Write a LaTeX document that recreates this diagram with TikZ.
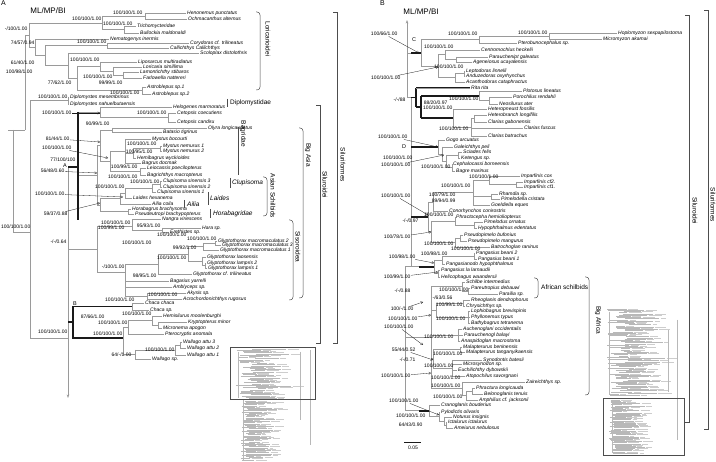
\documentclass[tikz,border=0pt]{standalone}
\usepackage{fontspec}
\setmainfont{Liberation Sans}
\definecolor{arbolGris}{HTML}{9A9A9A}
\definecolor{arbolOscuro}{HTML}{4D4D4D}
\definecolor{arbolTinta}{HTML}{1A1A1A}
\definecolor{arbolMini}{HTML}{B8B8B8}
\usepackage{tikz}
\usetikzlibrary{
	arrows.meta
}
\tikzset{
	rama/.style={
		draw=arbolGris,
		line width=0.5pt
	},
	ramaNegra/.style={
		draw=arbolTinta,
		line width=1.6pt
	},
	taxon/.style={
		anchor=west,
		inner sep=0pt,
		font=\fontsize{5}{5}\selectfont\itshape
	},
	soporte/.style={
		anchor=east,
		inner sep=0.4pt,
		font=\fontsize{5}{5}\selectfont
	},
	clado/.style={
		inner sep=0pt,
		font=\fontsize{6.5}{6.5}\selectfont
	},
	cladoGiro/.style={
		clado,
		rotate=-90
	},
	llave/.style={
		draw=arbolOscuro,
		line width=0.5pt,
		rounded corners=3pt
	},
	barra/.style={
		draw=arbolOscuro,
		line width=0.5pt
	},
	flecha/.style={
		-{Straight Barb[length=2pt,width=2.4pt]},
		line width=0.3pt,
		arbolTinta
	},
	eje/.style={
		draw=arbolGris,
		line width=0.6pt,
		-{Stealth[length=3.5pt,width=2.6pt]}
	},
	mini/.style={
		draw=arbolMini,
		line width=0.2pt
	},
	recuadro/.style={
		draw=arbolOscuro,
		line width=0.6pt
	}
}

\begin{document}
\begin{tikzpicture}[x=1pt,y=-1pt]
	\useasboundingbox (0,0) rectangle (716,462);
	\fill[white] (0,0) rectangle (716,462);

	% ---------- panel A ----------
	\node[anchor=north west, inner sep=0pt, font=\fontsize{7}{7}\selectfont] (letraA) at (1,0) {A};
	\node[inner sep=0pt, font=\fontsize{8}{8}\selectfont] (metodoA) at (48,11) {ML/MP/BI};

	% internal branches
	\foreach \xn/\ya/\yb in {145/13/19, 124/26/33, 102/16/29.5, 29/23/47.3, 35/39/55.6, 107/43/48, 45/45.5/65.75, 68/53/78.5, 77/66.5/90.5, 100/62/71, 113/67/75, 123/72/78, 142/87/94, 25/35/130, 13/130/232, 30/100.5/338, 68/97/104, 168/113/122, 100/107/117.5, 112/128/132, 160/146/151, 133/148.5/158, 125/139/163, 140/168/175, 110/151/171.5, 100/130/161.25, 160/181/187, 152/184/192, 125/188/198, 120/193/204, 128/209/214, 100/198.5/211.5, 97/145.6/205, 162/228/232, 132/219.5/230, 215/241/245, 203/243/250, 205/263/268, 202/257/265.5, 188/246.5/261.25, 158/253.9/274, 147/293/299, 125/264/296, 97/226/272, 132/303/310, 158/322/328, 152/316/325, 128/320.5/334, 180/342/348, 175/345/355, 135/350/359, 123/327.25/354.5}
		{\draw[rama] (\xn,\ya) -- (\xn,\yb);}
	\foreach \xa/\xb/\yn in {102/145/16, 102/124/29.5, 29/102/23, 25/29/35, 29/35/47.3, 35/45/55.6, 45/107/45.5, 45/68/65.75, 68/77/78.5, 77/100/66.5, 100/113/71, 113/123/75, 77/142/90.5, 8/13/130, 13/25/130, 13/30/232, 30/68/100.5, 30/68/338, 78/100/112.25, 100/168/117.5, 100/112/130, 133/160/148.5, 125/133/153.25, 110/125/151, 110/140/171.5, 100/110/161.25, 97/100/145.6, 152/160/184, 125/152/188, 120/125/193, 100/120/198.5, 100/128/211.5, 97/100/205, 78/97/175.3, 132/162/230, 97/132/226, 203/215/243, 188/203/246.5, 202/205/265.5, 188/202/261.25, 158/188/253.9, 125/158/264, 125/147/296, 97/125/272, 68/97/249, 152/158/325, 128/152/320.5, 175/180/345, 135/175/350, 123/128/327.25, 123/135/354.5}
		{\draw[rama] (\xa,\yn) -- (\xb,\yn);}
	\draw[eje] (68,167) -- (68,398);
	\draw[ramaNegra] (78,112) -- (78,220);
	\draw[ramaNegra, line width=2pt] (68,167) -- (78,167);
	\draw[ramaNegra] (73,306.5) -- (132,306.5);
	\draw[ramaNegra] (73,306.5) -- (73,338) -- (123,338);
	\draw[ramaNegra] (68,322) -- (73,322);

	% terminal taxa
	\foreach \xn/\yn/\xl/\nom in {145/13/187/Henonemus punctatus, 145/19/188/Ochmacanthus alternus, 124/26/137/Trichomycteridae, 124/33/140/Bullockia maldonaldi, 35/39/110/Nematogenys inermis, 107/43/190/Corydoras cf. trilineatus, 107/48/170/Callichthys Callichthys, 68/53/200/Scoloplax distolothrix, 100/62/138/Liposarcus multiradiatus, 113/67/143/Loricaria simillima, 123/72/140/Lamontichthy stibaros, 123/78/143/Farlowella nattereri, 142/87/147/Astroblepus sp.1, 142/94/152/Astroblepus sp.2, 68/97/70/Diplomystes mesembrinus, 68/104/70/Diplomystes nahuelbutaensis, 100/107/173/Helogenes marmoratus, 168/113/177/Cetopsis coecutiens, 168/122/177/Cetopsis candiru, 112/128/208/Olyra longicaudatus, 112/132/163/Batasio tigrinus, 125/139/152/Mystus bocourti, 160/146/163/Mystus nemurus 1, 160/151/163/Mystus nemurus 2, 133/158/137/Hemibagrus wyckioides, 125/163/142/Bagrus docmak, 140/168/147/Leiocassis poecilopterus, 140/175/147/Bagrichthys macropterus, 160/181/163/Clupisoma sinensis 3, 160/187/163/Clupisoma sinensis 2, 152/192/157/Clupisoma sinensis 1, 125/198/133/Laides hexanema, 120/204/152/Ailia coila, 128/209/132/Horabagrus brachysoma, 128/214/135/Pseudeutropi brachypopterus, 132/219.5/162/Nangra viriescens, 162/228/202/Hara sp., 162/232/170/Erethistes sp., 215/241/218/Glyptothorax macromaculatus 2, 215/245/222/Glyptothorax macromaculatus 3, 203/250/220/Glyptothorax macromaculatus 1, 202/257/207/Glyptothorax laosensis, 205/263/207/Glyptothorax lampris 2, 205/268/208/Glyptothorax lampris 1, 158/274/193/Glyptothorax cf. trilineatus, 125/281/170/Bagarius yarrelli, 125/287/173/Amblyceps sp., 147/293/187/Akysis sp., 147/299/183/Acrochordonichthys rugosus, 132/303/145/Chaca chaca, 132/310/150/Chaca sp., 152/316/163/Hemisilurus moolenburghi, 158/322/188/Kryptopterus minor, 158/328/163/Micronema apogon, 128/334/165/Pterocryptis anomala, 180/342/183/Wallago attu 3, 180/348/187/Wallago attu 2, 175/355/187/Wallago attu 1, 135/359/152/Wallago sp.}
	{
		\draw[rama] (\xn,\yn) -- ({\xl-1},\yn);
		\node[taxon] at (\xl,\yn) {\nom};
	}

	% support values
	\foreach \xr/\yn/\txt in {143/13/{100/100/1.00}, 102/19/{100/100/1.00}, 133/24/{100/100/1.00}, 28/29/{-/100/1.00}, 35/43/{74/57/0.94}, 107/42/{100/100/1.00}, 35/63/{61/40/1.00}, 100/60/{100/100/1.00}, 33/72/{100/98/1.00}, 113/77/{100/100/1.00}, 72/83/{77/62/1.00}, 123/83/{99/99/1.00}, 140/93/{100/100/1.00}, 68/97/{100/100/1.00}, 167/113/{100/100/1.00}, 110/124/{90/99/1.00}, 157/144/{100/100/1.00}, 153/152/{100/95/1.00}, 76/159.5/{77/100/100}, 138/167/{100/99/1.00}, 138/177/{100/100/1.00}, 160/182/{100/100/1.00}, 125/187/{100/100/1.00}, 131/222.5/{100/100/1.00}, 125/227.5/{100/99/1.00}, 161/225.5/{95/93/1.00}, 187/235/{100/100/1.00}, 217/239/{100/100/1.00}, 67/242/{-/-/0.64}, 152/243/{100/100/1.00}, 197/248/{99/92/1.00}, 187/258/{100/100/1.00}, 125/267/{-/100/1.00}, 157/276/{98/95/1.00}, 178/295/{100/100/1.00}, 135/300/{100/100/1.00}, 105/317/{87/66/1.00}, 152/314/{100/100/1.00}, 128/323/{100/100/1.00}, 68/332/{100/100/1.00}, 123/334/{100/100/1.00}, 175/350/{100/100/1.00}, 132/355/{64/-/1.00}}
		{\node[soporte] at (\xr,\yn) {\txt};}
	\node[soporte, anchor=west] (soporteRaiz) at (0.5,227) {100/100/1.00};
	\foreach \xr/\yn/\xt/\yt/\txt [count=\i] in {72/113/100/113/{100/100/1.00}, 70/139/100/142/{81/44/1.00}, 72/148/108/158/{100/100/1.00}, 65/171/97/173/{56/48/0.60}, 65/194/123/197/{100/100/1.00}, 68/214/100/203/{59/37/0.88}}
	{
		\node[soporte] (flA\i) at (\xr,\yn) {\txt};
		\coordinate (noA\i) at (\xt,\yt);
		\draw[flecha] (flA\i) -- (noA\i);
	}
	\node[inner sep=0pt, font=\fontsize{5.5}{5.5}\selectfont] (marcaA) at (65,166) {A};
	\node[inner sep=0pt, font=\fontsize{5.5}{5.5}\selectfont] (marcaB) at (75,304) {B};

	% clades of panel A
	\draw[llave] (256,12) -- (260,12) -- (260,90) -- (256,90);
	\node[cladoGiro] (loricarioidei) at (268,39) {Loricarioidei};
	\draw[barra] (227,99) -- (227,107);
	\node[clado, anchor=west] (diplomystidae) at (230,103) {Diplomystidae};
	\draw[barra] (238,127) -- (238,175);
	\node[cladoGiro] (bagridae) at (243,134) {Bagridae};
	\draw[barra] (230,178) -- (230,188);
	\node[clado, anchor=west, font=\fontsize{6.5}{6.5}\selectfont\itshape] (clupisoma) at (232,183) {Clupisoma};
	\draw[barra] (208,192) -- (208,205);
	\node[clado, anchor=west, font=\fontsize{6.5}{6.5}\selectfont\itshape] (laides) at (210,198) {Laides};
	\draw[barra] (184,200) -- (184,208);
	\node[clado, anchor=west, font=\fontsize{6.5}{6.5}\selectfont\itshape] (ailia) at (187,204) {Ailia};
	\draw[barra] (210,209) -- (210,218);
	\node[clado, anchor=west, font=\fontsize{6.5}{6.5}\selectfont\itshape] (horabagridae) at (213,214) {Horabagridae};
	\draw[llave] (263,177) -- (267,177) -- (267,216) -- (263,216);
	\node[cladoGiro] (asianSchilbids) at (273,196) {Asian Schilbids};
	\draw[llave] (289,220) -- (293,220) -- (293,300) -- (289,300);
	\node[cladoGiro] (sisoroidea) at (298,247) {Sisoroidea};
	\draw[llave] (299,128) -- (303,128) -- (303,298) -- (299,298);
	\node[cladoGiro] (bigAsia) at (308,155) {Big Asia};
	\draw[barra] (316,105) -- (320,105) -- (320,343) -- (316,343);
	\node[cladoGiro] (siluroideiA) at (325,185) {Siluroidei};
	\draw[barra] (333,12) -- (337,12) -- (337,343) -- (333,343);
	\node[cladoGiro] (siluriformesA) at (343,165) {Siluriformes};

	% miniature of panel A
	\pgfmathsetseed{11}
	\foreach \k in {0,...,42}{
		\pgfmathsetmacro{\yy}{349+\k*1.2}
		\pgfmathsetmacro{\xa}{236+24*rnd}
		\pgfmathsetmacro{\xb}{\xa+8+28*rnd}
		\draw[mini] (\xa,\yy) -- (\xb,\yy);
		\draw[mini, draw=arbolMini!70] ({\xb+1.5},\yy) -- ({\xb+6+9*rnd},\yy);
	}
	\foreach \k in {0,...,49}{
		\pgfmathsetmacro{\yy}{401+\k*1.2}
		\pgfmathsetmacro{\xa}{241+8*rnd}
		\pgfmathsetmacro{\xb}{\xa+8+22*rnd}
		\draw[mini] (\xa,\yy) -- (\xb,\yy);
		\draw[mini, draw=arbolMini!70] ({\xb+1.5},\yy) -- ({\xb+5+8*rnd},\yy);
	}
	\draw[mini] (238,352) -- (238,398);
	\draw[mini] (243,400) -- (243,460);
	\draw[mini] (300,352) -- (300,420);
	\draw[mini] (310,350) -- (310,445);
	\draw[recuadro] (230,347) rectangle (315,399);

	% ---------- panel B ----------
	\node[anchor=north west, inner sep=0pt, font=\fontsize{7}{7}\selectfont] (letraB) at (380,0) {B};
	\node[inner sep=0pt, font=\fontsize{8}{8}\selectfont] (metodoB) at (421,12) {ML/MP/BI};

	\foreach \xn/\ya/\yb in {549/33/39, 479/36/43, 456/57/62, 445/50/59.5, 464/71/76, 455/73.5/82, 438/54.75/77.75, 421/39.5/66.25, 489/97/104, 479/91/100.5, 474/115/122, 471/118.5/136, 453/109/127.25, 458/152/158, 452/164/171, 446/155/167.5, 442/147/161.25, 438/140/154.1, 516/182/187, 489/176/184.5, 491/194/199, 473/180.25/205, 433/192.6/211, 474/222/228, 455/217/225, 460/235/241, 455/238/247, 431/221/242.5, 428/201.8/231.75, 474/253/259, 442/256/264, 438/270/277, 434/260/273.5, 468/288/294, 462/282/291, 463/300/306, 468/311/323, 436/303/317, 458/329/341, 460/347/352, 452/360/376, 433/349.5/368, 472/388/394, 466/391/400, 462/382/395.5, 431/286.5/388.75, 446/422/428, 444/417/425, 439/412/421, 429/405/416.5, 411/97.5/266.75, 405/266.75/410.75}
		{\draw[rama] (\xn,\ya) -- (\xn,\yb);}
	\foreach \xa/\xb/\yn in {479/549/36, 421/479/39.5, 445/456/59.5, 438/445/54.75, 455/464/73.5, 438/455/77.75, 421/438/66.25, 407/411/53, 479/489/100.5, 471/474/118.5, 453/471/127.25, 407/411/97.5, 446/458/155, 446/452/167.5, 442/446/161.25, 438/442/154.1, 489/516/184.5, 473/489/180.25, 473/491/196.5, 433/473/192.6, 428/433/201.8, 455/474/225, 431/455/221, 455/460/238, 431/455/242.5, 428/431/231.75, 442/474/256, 434/442/260, 434/438/273.5, 405/419/266.75, 462/468/291, 431/462/286.5, 436/463/303, 436/468/317, 431/436/310, 431/458/335, 431/433/358.75, 433/460/349.5, 433/452/368, 466/472/391, 462/466/395.5, 431/462/388.75, 444/446/425, 439/444/421, 429/439/416.5, 405/419/410.75, 405/431/337}
		{\draw[rama] (\xa,\yn) -- (\xb,\yn);}
	\draw[eje] (407,97.5) -- (407,20);
	\draw[ramaNegra] (411,53) -- (421,53);
	\draw[ramaNegra] (411,97.5) -- (416,97.5);
	\draw[ramaNegra] (416,88) -- (416,107);
	\draw[ramaNegra] (416,88) -- (470,88);
	\draw[ramaNegra] (416,107) -- (421,107);
	\draw[ramaNegra] (421,95.75) -- (421,118.1);
	\draw[ramaNegra] (421,95.75) -- (479,95.75);
	\draw[ramaNegra] (421,118.1) -- (453,118.1);
	\draw[ramaNegra] (411,147) -- (438,147);
	\draw[ramaNegra] (411,216.8) -- (428,216.8);
	\draw[ramaNegra] (419,266.75) -- (434,266.75);
	\draw[ramaNegra] (419,410.75) -- (429,410.75);

	\foreach \xn/\yn/\xl/\nom in {549/33/618/Hoplomyzon sexpapilostoma, 549/39/603/Micromyzon akamai, 479/43/518/Pterobunocephalus sp., 445/50/481/Centromochlus heckelii, 456/57/489/Parauchenipt galeatus, 456/62/473/Ageneiosus ucayalensis, 464/71/466/Leptodoras  linnelli, 464/76/466/Anduzedoras  oxyrhynchus, 455/82/466/Acanthodoras cataphractus, 416/88/471/Rita rita, 479/91/523/Plotosus lineatus, 489/97/513/Porochilus rendahli, 489/104/499/Neosilurus ater, 453/109/488/Heteropneust fossilis, 474/115/488/Heterobranch longifilis, 474/122/488/Clarias gabonensis, 471/128/524/Clarias fuscus, 471/136/488/Clarias batrachus, 438/140/446/Gogo arcuatus, 442/147/454/Galeichthys peli, 458/152/463/Sciades felis, 458/158/461/Ketengus sp., 452/164/453/Cephalocassi borneensis, 452/171/456/Bagre marinus, 489/176/521/Imparfinis cox, 516/182/524/Imparfinis cf2., 516/187/524/Imparfinis cf1., 491/194/499/Rhamdia sp., 491/199/501/Pimelodella cristata, 473/205/491/Goeldiella eques, 433/211/449/Conorhynchos conirostris, 455/217/456/Phractocepha hemioliopterus, 474/222/484/Pimelodus ornatus, 474/228/478/Hypophthalmus edentatus, 460/235/464/Pseudopimelo bufonius, 460/241/468/Pseudopimelo mangurus, 455/247/491/Batrochoglan raninus, 474/253/476/Pangasius beani 2, 474/259/478/Pangasius beani 1, 442/264/446/Pangasianodo hypophthalmus, 438/270/441/Pangasius la larnaudii, 438/277/441/Helicophagus waandersii, 462/282/466/Schilbe intermedius, 468/288/471/Pareutropius debauwi, 468/294/499/Parailia sp., 463/300/471/Rheoglanis dendrophorus, 463/306/466/Chrysichthys sp., 468/311/471/Lophiobagrus brevispinis, 468/317/471/Phyllonemus typus, 468/323/471/Bathybagrus tetranema, 458/329/463/Auchenoglani occidentalis, 458/335/464/Parauchenogl balayi, 458/341/461/Anaspidoglan macrostoma, 460/347/463/Malapterurus beninensis, 460/352/466/Malapterurus tanganyikaensis, 452/360/483/Synodontis batesii, 452/364/463/Microsynodon sp., 452/370/458/Euchilichthy dybowskii, 452/376/466/Atopochilus savorgnani, 462/382/526/Zaireichthys sp., 472/388/476/Phractura longicauda, 472/394/484/Belonoglanis tenuis, 466/400/479/Amphilius cf. jacksonii, 429/405/441/Cranoglanis bouderius, 439/412/441/Pylodictis olivaris, 444/417/453/Noturus insignis, 446/422/448/Ictalurus ictalurus, 446/428/454/Ameiurus nebulosus}
	{
		\draw[rama] (\xn,\yn) -- ({\xl-1},\yn);
		\node[taxon] at (\xl,\yn) {\nom};
	}

	\foreach \xr/\yn/\txt in {478/34/{100/100/1.00}, 548/33/{100/100/1.00}, 454/47/{100/100/1.00}, 464/67/{100/100/1.00}, 406/100/{-/-/88}, 479/99/{100/100/1.00}, 448/103/{88/20/0.97}, 453/108/{100/100/1.00}, 469/129/{100/100/1.00}, 413/158/{100/100/1.00}, 451/167/{100/100/1.00}, 499/177/{100/100/1.00}, 471/186/{100/100/1.00}, 456/195/{100/79/1.00}, 456/201/{89/94/0.99}, 419/221/{-/-/0.97}, 454/215/{100/100/1.00}, 454/244/{100/100/1.00}, 481/249/{100/100/1.00}, 448/254/{100/98/1.00}, 469/290/{100/100/1.00}, 411/291/{-/-/0.88}, 453/298/{-/63/0.56}, 463/305/{100/99/1.00}, 466/319/{100/100/1.00}, 454/337/{100/100/1.00}, 463/354/{100/100/1.00}, 416/360/{-/-/0.71}, 454/366/{100/100/1.00}, 461/378/{100/100/1.00}, 461/386/{100/100/1.00}, 463/397/{100/100/1.00}, 426/416/{100/100/1.00}, 423/425/{64/43/0.90}}
		{\node[soporte] at (\xr,\yn) {\txt};}
	\foreach \xr/\yn/\xt/\yt/\txt [count=\i] in {398/34/419/53/{100/66/1.00}, 401/78/438/67/{100/100/1.00}, 408/137/438/147/{100/100/1.00}, 411/165/444/155/{100/100/1.00}, 411/196/428/215/{100/100/1.00}, 411/237/431/232/{100/78/1.00}, 416/257/434/263/{100/98/1.00}, 411/277/438/272/{100/99/1.00}, 414/309/423/302/{100/-/1.00}, 418/319/431/315/{100/100/1.00}, 414/327/423/345/{100/100/1.00}, 416/350/433/360/{55/44/0.52}, 411/376/431/373/{100/100/1.00}, 419/401/439/415/{100/100/1.00}}
	{
		\node[soporte] (flB\i) at (\xr,\yn) {\txt};
		\coordinate (noB\i) at (\xt,\yt);
		\draw[flecha] (flB\i) -- (noB\i);
	}
	\node[inner sep=0pt, font=\fontsize{5.5}{5.5}\selectfont] (marcaC) at (414,40) {C};
	\node[inner sep=0pt, font=\fontsize{5.5}{5.5}\selectfont] (marcaD) at (404,147) {D};

	% scale bar
	\coordinate (escalaIzq) at (404,442);
	\coordinate (escalaDer) at (421,442);
	\draw[arbolTinta, line width=0.4pt] (escalaIzq) -- (escalaDer);
	\node[inner sep=0pt, font=\fontsize{5}{5}\selectfont] (escala) at (413,448) {0.05};

	% clades of panel B
	\draw[llave] (534,278) -- (538,278) -- (538,298) -- (534,298);
	\node[clado, anchor=west] (africanSchilbids) at (541,287) {African schilbids};
	\draw[llave] (585,277) -- (589,277) -- (589,395) -- (585,395);
	\node[cladoGiro] (bigAfrica) at (598,320) {Big Africa};
	\draw[barra] (685,15) -- (689,15) -- (689,422) -- (685,422);
	\node[cladoGiro] (siluroideiB) at (695,211) {Siluroidei};
	\draw[barra] (704,10) -- (708,10) -- (708,429) -- (704,429);
	\node[cladoGiro] (siluriformesB) at (713,205) {Siluriformes};

	% miniature of panel B
	\pgfmathsetseed{23}
	\foreach \k in {0,...,72}{
		\pgfmathsetmacro{\yy}{309+\k*1.2}
		\pgfmathsetmacro{\xa}{607+22*rnd}
		\pgfmathsetmacro{\xb}{\xa+8+30*rnd}
		\draw[mini] (\xa,\yy) -- (\xb,\yy);
		\draw[mini, draw=arbolMini!70] ({\xb+1.5},\yy) -- ({\xb+6+9*rnd},\yy);
	}
	\foreach \k in {0,...,46}{
		\pgfmathsetmacro{\yy}{400+\k*1.15}
		\pgfmathsetmacro{\xa}{609+7*rnd}
		\pgfmathsetmacro{\xb}{\xa+8+24*rnd}
		\draw[mini] (\xa,\yy) -- (\xb,\yy);
		\draw[mini, draw=arbolMini!70] ({\xb+1.5},\yy) -- ({\xb+5+8*rnd},\yy);
	}
	\draw[mini] (609,312) -- (609,395);
	\draw[mini] (612,400) -- (612,453);
	\draw[mini] (668,330) -- (668,392);
	\draw[mini] (677,320) -- (677,440);
	\draw[recuadro] (603,398) rectangle (684,455);
\end{tikzpicture}
\end{document}
